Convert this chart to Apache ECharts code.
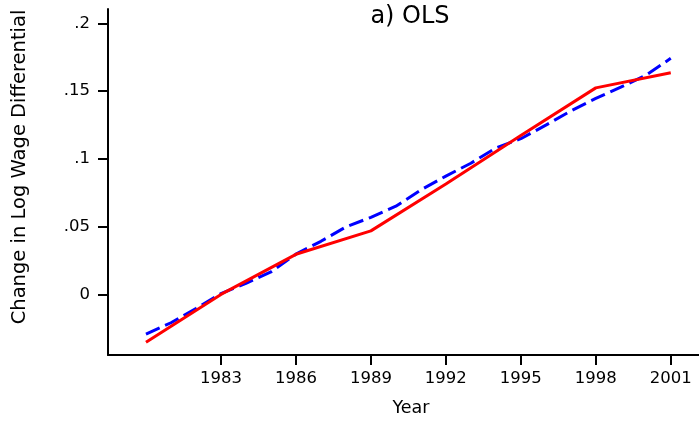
<!DOCTYPE html>
<html>
<head>
<meta charset="utf-8">
<script src="https://cdn.jsdelivr.net/npm/echarts@6/dist/echarts.min.js"></script>
<style>
  html, body { margin: 0; padding: 0; background: #fff; }
  #chart { width: 699px; height: 422px; }
</style>
</head>
<body>
<div id="chart"></div>
<script>
// Yearly series (dashed blue)
const yearsAnnual = [1980, 1981, 1982, 1983, 1984, 1985, 1986, 1987, 1988, 1989, 1990,
                     1991, 1992, 1993, 1994, 1995, 1996, 1997, 1998, 1999, 2000, 2001];
const dashedValues = [-0.0293, -0.0209, -0.0104, 0.0006, 0.0082, 0.0166, 0.0297, 0.0392,
                      0.0498, 0.0569, 0.0651, 0.0771, 0.0873, 0.0968, 0.1081, 0.1149,
                      0.1249, 0.1354, 0.1446, 0.1529, 0.1617, 0.1742];

// Three-year series (solid red)
const yearsTriennial = [1980, 1983, 1986, 1989, 1992, 1995, 1998, 2001];
const solidValues = [-0.0353, 0.0000, 0.0296, 0.0469, 0.0814, 0.1172, 0.1524, 0.1635];

// Axis tick positions and labels
const xTicks = [1983, 1986, 1989, 1992, 1995, 1998, 2001];
const yTicks = [0, 0.05, 0.1, 0.15, 0.2];
const yTickLabels = ['0', '.05', '.1', '.15', '.2'];

const FONT = 'DejaVu Sans, sans-serif';

const chart = echarts.init(document.getElementById('chart'), null, { renderer: 'canvas' });

chart.setOption({
  animation: false,
  backgroundColor: '#ffffff',
  title: {
    text: 'a) OLS',
    left: 405,
    top: 0,
    textAlign: 'center',
    textStyle: { fontFamily: FONT, fontSize: 24, fontWeight: 'normal', color: '#000' }
  },
  grid: { left: 108, right: 0, top: 9, bottom: 63, containLabel: false },
  xAxis: {
    type: 'value',
    min: 1978.48,
    max: 2002.13,
    name: 'Year',
    nameLocation: 'middle',
    nameGap: 44,
    nameTextStyle: { fontFamily: FONT, fontSize: 17.5, color: '#000', padding: [0, 0, 0, 15] },
    axisLine: { show: true, onZero: false, lineStyle: { color: '#000', width: 2 } },
    axisTick: { show: true, length: 10, inside: false, lineStyle: { color: '#000', width: 2 }, customValues: xTicks },
    axisLabel: { fontFamily: FONT, fontSize: 16.5, color: '#000', margin: 15, customValues: xTicks, formatter: v => String(v) },
    splitLine: { show: false }
  },
  yAxis: {
    type: 'value',
    min: -0.0447,
    max: 0.2106,
    axisLine: { show: true, onZero: false, lineStyle: { color: '#000', width: 2 } },
    axisTick: { show: true, length: 10, lineStyle: { color: '#000', width: 2 }, customValues: yTicks },
    axisLabel: {
      fontFamily: FONT, fontSize: 16.5, color: '#000', margin: 18,
      customValues: yTicks,
      formatter: v => {
        const i = yTicks.findIndex(t => Math.abs(t - v) < 1e-9);
        return i >= 0 ? yTickLabels[i] : '';
      }
    },
    splitLine: { show: false }
  },
  graphic: [{
    type: 'text',
    x: 20,
    y: 167,
    rotation: Math.PI / 2,
    style: {
      text: 'Change in Log Wage Differential',
      fontFamily: FONT,
      fontSize: 19.5,
      fill: '#000',
      align: 'center',
      verticalAlign: 'middle'
    }
  }],
  series: [
    {
      name: 'dashed',
      type: 'line',
      data: yearsAnnual.map((y, i) => [y, dashedValues[i]]),
      showSymbol: false,
      lineStyle: { color: '#0000ff', width: 3, type: [15, 6], cap: 'butt' },
      z: 2
    },
    {
      name: 'solid',
      type: 'line',
      data: yearsTriennial.map((y, i) => [y, solidValues[i]]),
      showSymbol: false,
      lineStyle: { color: '#ff0000', width: 3, type: 'solid' },
      z: 3
    }
  ]
});
</script>
</body>
</html>
